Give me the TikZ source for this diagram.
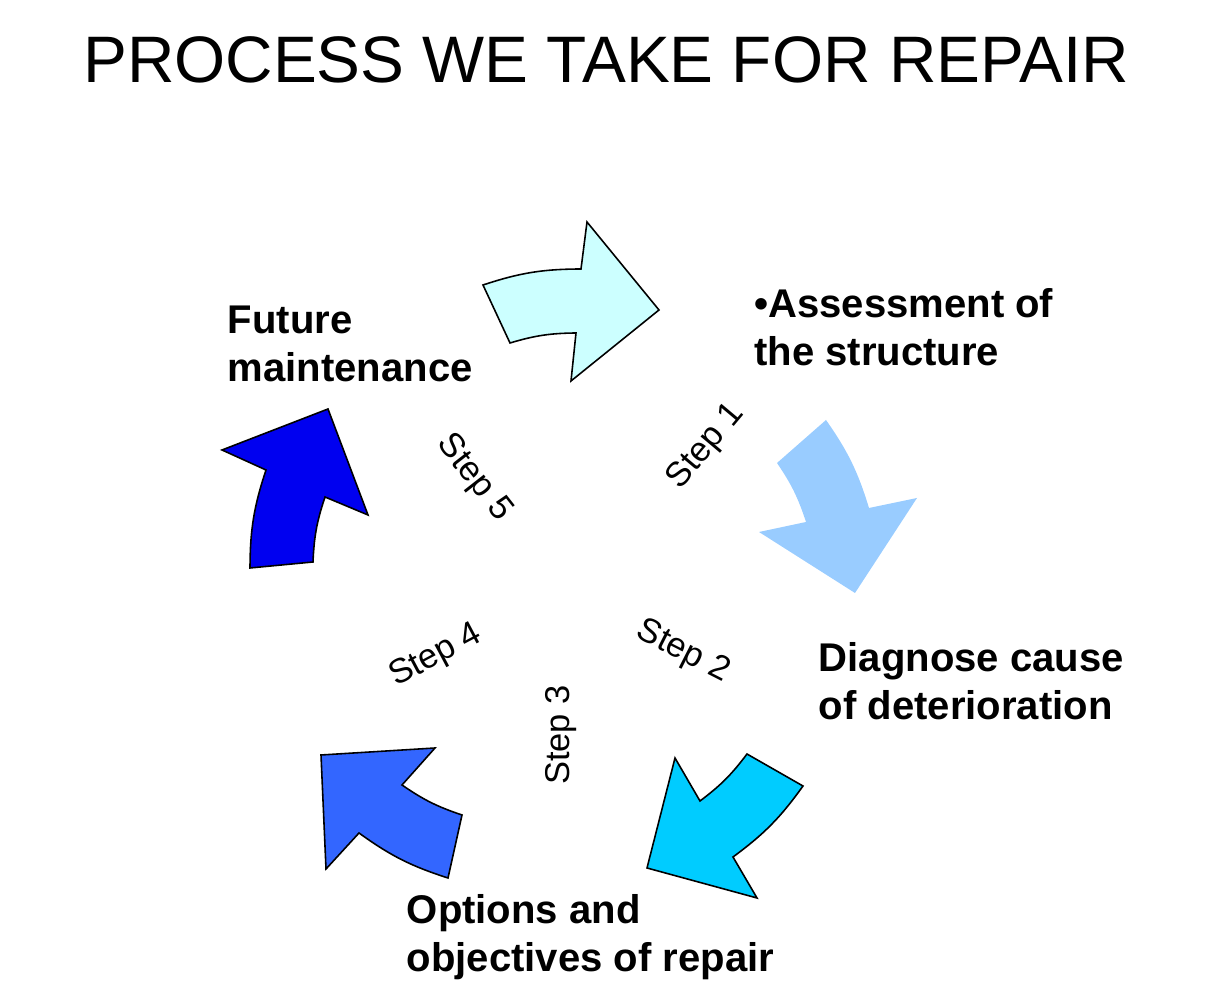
\documentclass[tikz,border=0pt]{standalone}
\usepackage{fontspec}
\setmainfont{Liberation Sans}
\usepackage{tikz}
\definecolor{stepone}{HTML}{CCFFFF}
\definecolor{steptwo}{HTML}{99CCFF}
\definecolor{stepthree}{HTML}{00CCFF}
\definecolor{stepfour}{HTML}{3366FF}
\definecolor{stepfive}{HTML}{0000F0}

\begin{document}
\begin{tikzpicture}[
        cyc/.style={draw=black, line width=0.9pt, line join=miter},
        lbl/.style={anchor=north west, align=left, inner sep=0pt, font=\fontsize{22.8}{27.3}\selectfont\bfseries},
        stp/.style={inner sep=0pt, font=\fontsize{19.6}{22}\selectfont}
    ]
            \useasboundingbox (0,0) rectangle (24.18,20.10);
            \node[anchor=base, inner sep=0pt, font=\fontsize{37.4}{40}\selectfont] (title) at (12.12,18.44) {PROCESS WE TAKE FOR REPAIR};

            \fill[stepone, cyc] (9.66,14.40) to[bend left=9] (11.62,14.72) -- (11.74,15.66) -- (13.18,13.90) -- (11.42,12.48) -- (11.52,13.44) to[bend right=8] (10.20,13.24) -- cycle;
            \fill[steptwo] (16.52,11.70) to[bend left=9] (17.38,9.94) -- (18.34,10.14) -- (17.10,8.24) -- (15.18,9.46) -- (16.12,9.66) to[bend right=8] (15.54,10.84) -- cycle;
            \fill[stepthree, cyc] (16.06,4.38) to[bend left=9] (14.66,2.96) -- (15.14,2.14) -- (12.94,2.74) -- (13.50,4.94) -- (14.00,4.08) to[bend right=8] (14.94,5.02) -- cycle;
            \fill[stepfour, cyc] (8.96,2.54) to[bend left=9] (7.18,3.44) -- (6.52,2.72) -- (6.42,5.00) -- (8.70,5.14) -- (8.04,4.40) to[bend right=8] (9.24,3.80) -- cycle;
            \fill[stepfive, cyc] (5.00,8.74) to[bend left=9] (5.32,10.70) -- (4.44,11.10) -- (6.56,11.92) -- (7.36,9.80) -- (6.50,10.16) to[bend right=8] (6.26,8.86) -- cycle;

            \node[lbl] (assess) at (15.08,14.34) {\textbullet Assessment of\\the structure};
            \node[lbl] (diagnose) at (16.37,7.25) {Diagnose cause\\of deterioration};
            \node[lbl] (options) at (8.13,2.21) {Options and\\objectives of repair};
            \node[lbl] (future) at (4.55,13.99) {Future\\maintenance};

            \node[stp, rotate=50] (step1) at (14.12,11.17) {Step 1};
            \node[stp, rotate=-27] (step2) at (13.66,7.06) {Step 2};
            \node[stp, rotate=90] (step3) at (11.22,5.40) {Step 3};
            \node[stp, rotate=28] (step4) at (8.72,6.98) {Step 4};
            \node[stp, rotate=-52] (step5) at (9.48,10.54) {Step 5};
        \end{tikzpicture}
\end{document}
